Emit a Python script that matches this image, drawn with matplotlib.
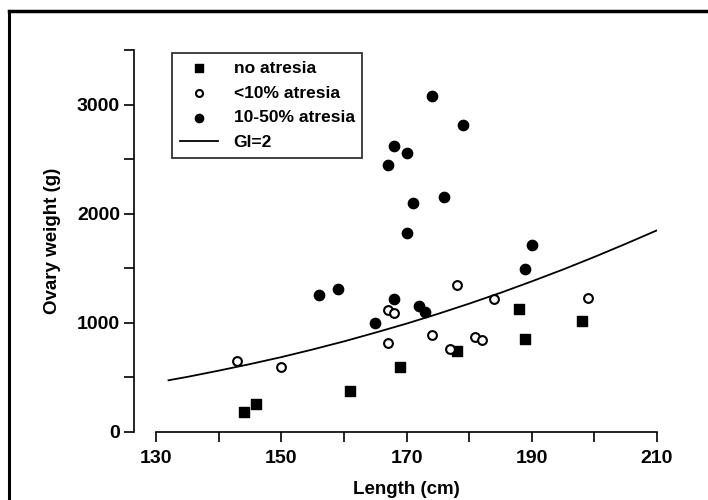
import matplotlib
matplotlib.use("Agg")
import matplotlib.pyplot as plt
from matplotlib.lines import Line2D
from matplotlib.ticker import MultipleLocator, FixedLocator

plt.rcParams['font.family'] = ['Liberation Sans', 'DejaVu Sans']
plt.rcParams['font.weight'] = 'bold'
plt.rcParams['axes.labelweight'] = 'bold'

# no atresia (squares)
none_len = [144, 146, 161, 169, 178, 188, 189, 198]
none_wt = [180, 255, 380, 600, 745, 1130, 855, 1020]

# <10% atresia (open circles)
low_len = [143, 150, 167, 167, 168, 174, 177, 178, 181, 182, 184, 199]
low_wt = [650, 600, 815, 1115, 1090, 890, 760, 1345, 875, 840, 1220, 1225]

# 10-50% atresia (filled circles)
high_len = [174, 179, 168, 170, 167, 176, 171, 170, 190, 189, 159, 156, 168, 172, 173, 165]
high_wt = [3080, 2810, 2625, 2555, 2445, 2155, 2100, 1825, 1715, 1495, 1310, 1255, 1220, 1150, 1095, 1000]

# GI=2 line
gi_len = [132, 135, 140, 145, 150, 155, 160, 165, 170, 175, 180, 185, 190, 195, 200, 205, 210]
gi_wt = [474, 505, 562, 622, 686, 756, 830, 910, 993, 1082, 1176, 1275, 1380, 1489, 1604, 1724, 1848]

x_labels = [130, 150, 170, 190, 210]

fig = plt.figure(figsize=(7.08, 5.0), dpi=100)
ax = fig.add_axes([156 / 708, 68 / 500, 501 / 708, 382 / 500])

ax.plot(gi_len, gi_wt, color='black', lw=1.3, label='GI=2', zorder=2)
ax.scatter(none_len, none_wt, marker='s', s=42, color='black', label='no atresia', zorder=3)
ax.scatter(low_len, low_wt, marker='o', s=40, facecolor='white', edgecolor='black',
           linewidths=1.5, label='<10% atresia', zorder=3)
ax.scatter(high_len, high_wt, marker='o', s=55, color='black', label='10-50% atresia', zorder=3)

ax.set_xlim(130, 210)
ax.set_ylim(0, 3500)
ax.xaxis.set_major_locator(FixedLocator(x_labels))
ax.xaxis.set_minor_locator(MultipleLocator(10))
ax.yaxis.set_major_locator(MultipleLocator(1000))
ax.yaxis.set_minor_locator(MultipleLocator(500))

for s in ['top', 'right']:
    ax.spines[s].set_visible(False)
for s in ['left', 'bottom']:
    ax.spines[s].set_linewidth(1.2)
ax.spines['left'].set_position(('outward', 16))

ax.tick_params(axis='both', which='both', direction='out', length=7, width=1.2)
ax.tick_params(axis='x', which='major', labelsize=14, pad=6)
ax.tick_params(axis='y', which='major', labelsize=14, pad=3)

ax.set_xlabel('Length (cm)', fontsize=13.5, labelpad=10)
ax.set_ylabel('Ovary weight (g)', fontsize=13.5, labelpad=11)

handles, labels = ax.get_legend_handles_labels()
order = [1, 2, 3, 0]
leg = ax.legend([handles[i] for i in order], [labels[i] for i in order],
                loc='upper left', bbox_to_anchor=(0.032, 0.992), borderaxespad=0,
                fontsize=12.5, frameon=True, fancybox=False, edgecolor='black',
                handlelength=2.2, handletextpad=0.9, labelspacing=0.55,
                borderpad=0.45, markerscale=0.8)
leg.get_frame().set_linewidth(1.3)

# scanned page frame (top and left edges)
fig.add_artist(Line2D([9 / 708, 1.0], [1 - 11 / 500, 1 - 11 / 500], color='black', lw=2.5,
                      transform=fig.transFigure))
fig.add_artist(Line2D([9 / 708, 9 / 708], [0, 1 - 11 / 500], color='black', lw=2.2,
                      transform=fig.transFigure))

fig.savefig('out.png', dpi=100)
